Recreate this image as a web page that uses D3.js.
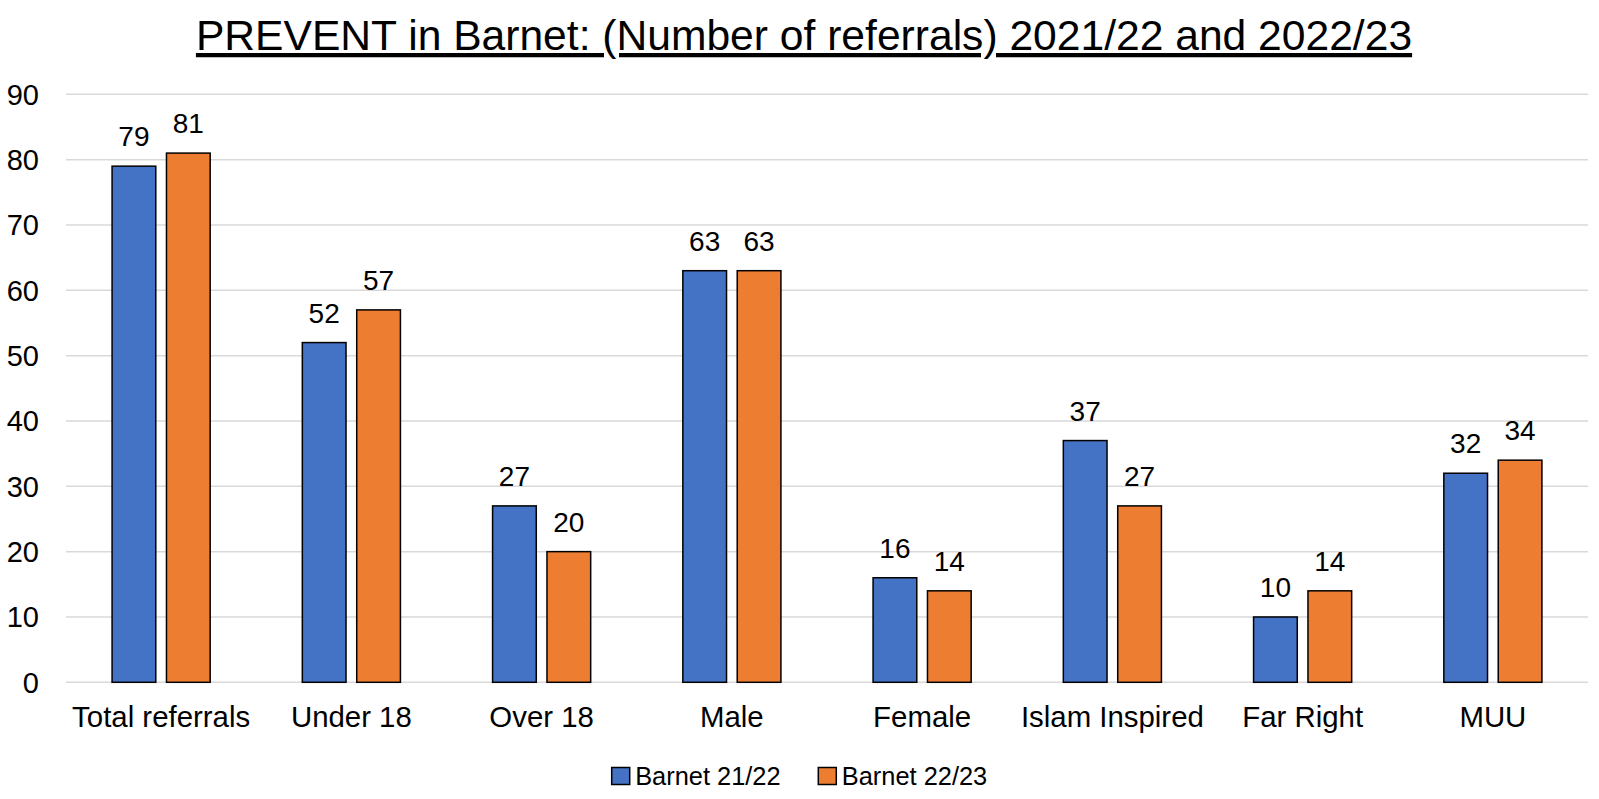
<!DOCTYPE html>
<html><head><meta charset="utf-8">
<script src="https://cdn.jsdelivr.net/npm/d3@7"></script>
<style>body{margin:0;background:#fff;} svg{display:block;font-family:"Liberation Sans",Arial,sans-serif;}</style>
</head><body>
<svg id="c" width="1599" height="799"></svg>
<script>
const categories = ["Total referrals","Under 18","Over 18","Male","Female","Islam Inspired","Far Right","MUU"];
const seriesNames = ["Barnet 21/22","Barnet 22/23"];
const barnet2122 = [79,52,27,63,16,37,10,32];
const barnet2223 = [81,57,20,63,14,27,14,34];
const yTicks = [0,10,20,30,40,50,60,70,80,90];
const colors = ["#4472C4","#ED7D31"];
const title = "PREVENT in Barnet: (Number of referrals) 2021/22 and 2022/23";

(function(){
const svg = d3.select("#c");
const pLeft = 66, pRight = 1588, pTop = 94.3, pBottom = 682.3;

const x = d3.scaleBand().domain(categories).range([pLeft, pRight]).paddingInner(0).paddingOuter(0);
const y = d3.scaleLinear().domain([0, 90]).range([pBottom, pTop]);
const barW = 43.7, gap = 10.7;
const x1 = d3.scaleOrdinal().domain([0,1]).range([-(gap/2 + barW), gap/2]);

svg.append("g").selectAll("line").data(yTicks).join("line")
  .attr("x1", pLeft).attr("x2", pRight)
  .attr("y1", d => y(d)).attr("y2", d => y(d))
  .attr("stroke", "#d9d9d9").attr("stroke-width", 1.5);

svg.append("g").selectAll("text").data(yTicks).join("text")
  .attr("x", 39).attr("y", d => y(d) + 10.5)
  .attr("text-anchor", "end").attr("font-size", 29).attr("fill", "#000")
  .text(d => d);

const series = [barnet2122, barnet2223];
series.forEach((vals, si) => {
  const g = svg.append("g");
  g.selectAll("rect").data(vals).join("rect")
    .attr("x", (d,i) => x(categories[i]) + x.bandwidth()/2 + x1(si))
    .attr("y", d => y(d))
    .attr("width", barW)
    .attr("height", d => y(0) - y(d))
    .attr("fill", colors[si]).attr("stroke", "#000").attr("stroke-width", 1.5);
  g.selectAll("text").data(vals).join("text")
    .attr("x", (d,i) => x(categories[i]) + x.bandwidth()/2 + x1(si) + barW/2)
    .attr("y", d => y(d) - 20)
    .attr("text-anchor", "middle").attr("font-size", 28).attr("fill", "#000")
    .text(d => d);
});

svg.append("g").selectAll("text").data(categories).join("text")
  .attr("x", d => x(d) + x.bandwidth()/2).attr("y", 727)
  .attr("text-anchor", "middle").attr("font-size", 29.4).attr("fill", "#000")
  .text(d => d);

svg.append("text").attr("x", 804).attr("y", 50)
  .attr("text-anchor", "middle").attr("font-size", 42.6)
  .attr("text-decoration", "underline").attr("fill", "#000")
  .text(title);

const legX = [611.7, 818.3];
seriesNames.forEach((n, i) => {
  svg.append("rect").attr("x", legX[i]).attr("y", 767.5).attr("width", 18).attr("height", 17)
    .attr("fill", colors[i]).attr("stroke", "#000").attr("stroke-width", 1.5);
  svg.append("text").attr("x", legX[i] + 23.5).attr("y", 785).attr("font-size", 25.4).attr("fill", "#000").text(n);
});
})();
</script>
</body></html>
